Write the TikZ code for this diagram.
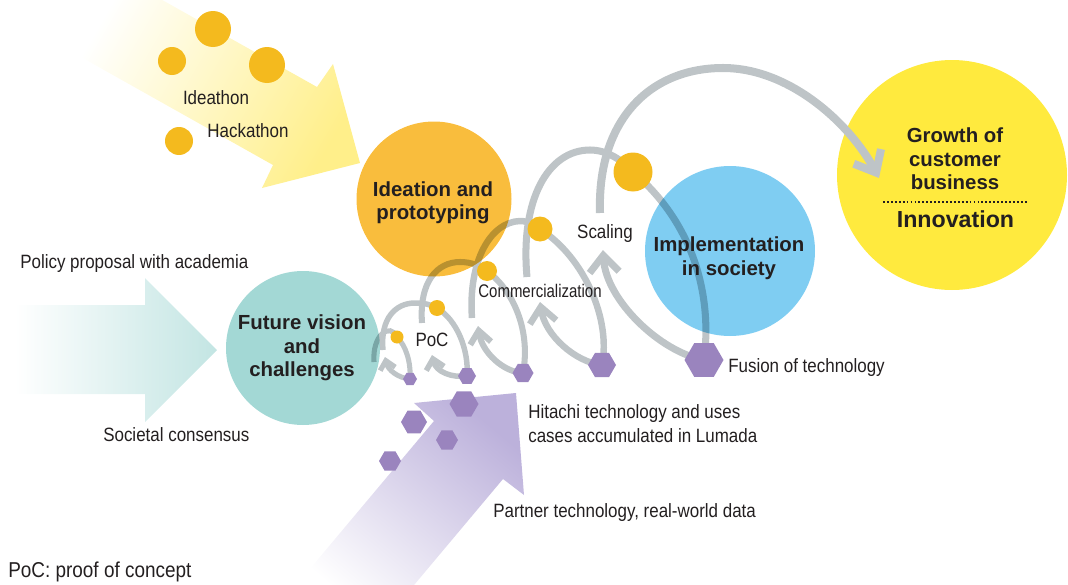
\documentclass[tikz,border=0pt]{standalone}
\usepackage{fontspec}
\setmainfont{Liberation Sans}
\newfontfamily\narrowfont[FakeStretch=0.88]{Liberation Sans}
\newfontfamily\narrowerfont[FakeStretch=0.82]{Liberation Sans}
\usetikzlibrary{arrows.meta,shapes.geometric}

\definecolor{ink}{HTML}{231F20}
\definecolor{loopgray}{HTML}{BEC4C7}
\definecolor{ideaorange}{HTML}{F9BD3D}
\definecolor{visionteal}{HTML}{A3D8D5}
\definecolor{societyblue}{HTML}{7FCDF2}
\definecolor{growthyellow}{HTML}{FFEA3E}
\definecolor{dotyellow}{HTML}{F4BA1E}
\definecolor{hexpurple}{HTML}{9A84BE}
\definecolor{inyellow}{HTML}{FFEF8A}
\definecolor{inteal}{HTML}{C3E5E3}
\definecolor{inpurple}{HTML}{BCB1DB}

\tikzset{
  note/.style={font=\narrowfont\fontsize{13.7}{16.3}\selectfont, text=ink, inner sep=0pt},
  stagetext/.style={font=\bfseries\fontsize{14.5}{16.7}\selectfont, text=ink, align=center, inner sep=0pt},
  stage/.style={circle, inner sep=0pt, minimum size=#1*0.025cm},
  idea/.style={circle, fill=dotyellow, inner sep=0pt, minimum size=#1*0.025cm},
  tech/.style={regular polygon, regular polygon sides=6, fill=hexpurple, inner sep=0pt, minimum size=#1*0.025cm},
  spiral/.style={draw=loopgray, line width=#1},
}

\begin{document}
\begin{tikzpicture}[x=0.025cm, y=-0.025cm]
\useasboundingbox (0,0) rectangle (1068,585);
\clip (0,0) rectangle (1068,585);

% incoming arrows
\shade[top color=white, bottom color=inyellow, shading angle=60]
  (116,-26) -- (317,87) -- (333,64) -- (360,163) -- (262,188) -- (273,165) -- (72,52) -- cycle;
\shade[left color=white, right color=inteal]
  (15,305) -- (145,305) -- (145,278) -- (217,350) -- (145,422) -- (145,394) -- (15,394) -- cycle;
\shade[top color=inpurple, middle color=inpurple!45!white, bottom color=white, shading angle=-40]
  (516,393) -- (414,403) -- (434,421) -- (309,570) -- (378,628) -- (503,479) -- (524,495) -- cycle;

% dots and hexagons (drawn later, named now)
\path
  (397,337) coordinate (d1) (437,308) coordinate (d2) (487,271) coordinate (d3)
  (540,229) coordinate (d4) (633,172) coordinate (d5)
  (410,379) coordinate (h1) (467,376) coordinate (h2) (523,373) coordinate (h3)
  (602,365) coordinate (h4) (704,360) coordinate (h5);

% loop starts and arrow ends
\coordinate (s1) at (374,362);
\coordinate (s2) at (383,350);
\coordinate (s3) at (422,323);
\coordinate (s4) at (472,318);
\coordinate (s5) at (527,277);
\coordinate (s6) at (600,213);
\coordinate (a1) at (385,357);
\coordinate (a2) at (432,355);
\coordinate (a3) at (478,326);
\coordinate (a4) at (540,302);
\coordinate (a5) at (603,250);
\coordinate (a6) at (879,178);

% spiral of trials
\draw[spiral=3.6pt] (s1) .. controls (372,335) and (390,322) .. (d1) .. controls (406,346) and (411,362) .. (h1);
\draw[spiral=3.6pt, -{Straight Barb[length=6pt, width=11pt]}] (h1) .. controls (398,378) and (388,370) .. (a1);
\draw[spiral=3.9pt] (s2) .. controls (380,318) and (396,303) .. (415,303) .. controls (425,303) and (432,305) .. (d2)
  .. controls (457,320) and (469,350) .. (h2);
\draw[spiral=3.9pt, -{Straight Barb[length=7pt, width=13pt]}] (h2) .. controls (452,378) and (436,372) .. (a2);
\draw[spiral=4.3pt] (s3) .. controls (419,282) and (437,262) .. (460,262) .. controls (472,262) and (480,266) .. (d3)
  .. controls (513,290) and (531,330) .. (h3);
\draw[spiral=4.3pt, -{Straight Barb[length=9pt, width=15pt]}] (h3) .. controls (503,372) and (482,352) .. (a3);
\draw[spiral=4.6pt] (s4) .. controls (468,262) and (490,222) .. (520,221) .. controls (528,221) and (535,225) .. (d4)
  .. controls (585,258) and (611,320) .. (h4);
\draw[spiral=4.6pt, -{Straight Barb[length=11pt, width=19pt]}] (h4) .. controls (575,362) and (545,335) .. (a4);
\draw[spiral=5pt] (s5) .. controls (520,200) and (548,150) .. (590,150) .. controls (607,150) and (622,160) .. (d5)
  .. controls (690,220) and (713,290) .. (h5);
\draw[spiral=5pt, -{Straight Barb[length=12pt, width=21pt]}] (h5) .. controls (660,352) and (606,300) .. (a5);

% stages
\begin{scope}[blend mode=multiply]
  \node[stage=155, fill=ideaorange] (ideation) at (434,199) {};
  \node[stage=154, fill=visionteal] (vision) at (303,348) {};
  \node[stage=170, fill=societyblue] (society) at (730,251) {};
\end{scope}
\node[stage=230, fill=growthyellow] (growth) at (952,175) {};

% last turn into the customer's business
\draw[spiral=5.7pt, -{Straight Barb[length=13pt, width=22pt]}] (s6) .. controls (597,120) and (650,68) .. (723,68)
  .. controls (790,68) and (850,124) .. (a6);

% ideas
\foreach \x/\y/\s/\n in {213/29/36/i1, 172/61/28/i2, 267/65/36/i3, 179/141/28/i4,
                         397/337/13/dot1, 437/308/16/dot2, 487/271/20/dot3, 540/229/25/dot4, 633/172/39/dot5} {
  \node[idea=\s] (\n) at (\x,\y) {};
}

% technologies
\foreach \x/\y/\s/\n in {410/379/14/hex1, 467/376/18/hex2, 523/373/21/hex3, 602/365/28/hex4, 704/360/39/hex5,
                         464/404/29/p1, 414/422/26/p2, 447/440/22/p3, 390/461/22/p4} {
  \node[tech=\s] (\n) at (\x,\y) {};
}

% stage texts
\node[stagetext] (ideationtext) at (433,203) {Ideation and\\prototyping};
\node[stagetext] (visiontext) at (302,348) {Future vision\\and\\challenges};
\node[stagetext] (societytext) at (729,258) {Implementation\\in society};
\node[stagetext] (growthtext) at (955,159) {Growth of\\customer\\business};
\draw[ink, line width=1.3pt, dash pattern=on 1.3pt off 1.5pt] (883,202) -- (1027,202);
\node[stagetext, font=\bfseries\fontsize{16.5}{18}\selectfont] (innovation) at (955.5,219.5) {Innovation};

% labels
\node[note, anchor=base] (ideathon) at (216,104) {Ideathon};
\node[note, anchor=base] (hackathon) at (248,137) {Hackathon};
\node[note, anchor=base west] (policy) at (20,268) {Policy proposal with academia};
\node[note, anchor=base west] (consensus) at (103,441) {Societal consensus};
\node[note, anchor=base] (poc) at (432,346) {PoC};
\node[note, anchor=base, font=\narrowerfont\fontsize{13}{15}\selectfont] (commercial) at (540,297) {Commercialization};
\node[note, anchor=base] (scaling) at (605,238) {Scaling};
\node[note, anchor=base west] (fusion) at (728,372) {Fusion of technology};
\node[note, anchor=base west] (lumada) at (528,418) {Hitachi technology and uses};
\node[note, anchor=base west] (lumada2) at (528,442) {cases accumulated in Lumada};
\node[note, anchor=base west] (partner) at (493,517) {Partner technology, real-world data};
\node[note, anchor=base west, font=\narrowfont\fontsize{15.3}{18}\selectfont] (pocnote) at (8,577) {PoC: proof of concept};
\end{tikzpicture}
\end{document}
